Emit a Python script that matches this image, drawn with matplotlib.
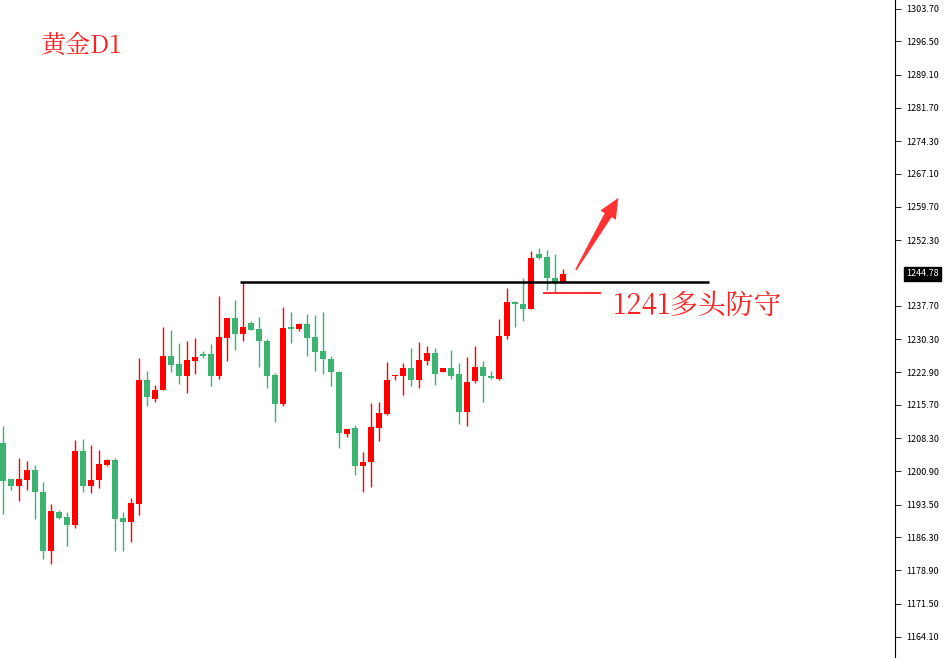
import matplotlib
matplotlib.use("Agg")
import matplotlib.pyplot as plt
from matplotlib.patches import Polygon

plt.rcParams['font.family'] = ['Noto Sans CJK SC', 'DejaVu Sans']

opens  = [1207.15,1199.2,1197.7,1199.0,1201.2,1196.3,1183.3,1191.9,1190.8,1188.9,
          1205.5,1197.7,1198.9,1202.4,1203.5,1190.6,1189.7,1193.7,1221.2,1216.9,
          1218.9,1226.6,1224.8,1222.0,1225.5,1227.0,1227.0,1222.2,1230.6,1235.0,
          1231.5,1233.9,1232.6,1229.9,1222.3,1215.8,1232.8,1232.6,1233.7,1230.8,
          1227.7,1225.9,1223.0,1209.3,1210.6,1202.0,1202.9,1210.6,1213.7,1222.0,
          1222.0,1223.9,1221.3,1225.5,1227.2,1222.9,1223.9,1222.6,1214.2,1220.9,
          1224.1,1222.0,1221.5,1230.9,1238.6,1238.1,1237.1,1249.2,1248.6,1243.9,1243.1]
closes = [1198.85,1197.7,1199.2,1201.2,1196.2,1183.3,1192.1,1190.6,1188.9,1205.5,
          1197.7,1199.0,1202.6,1203.5,1190.4,1189.7,1193.9,1221.2,1217.5,1219.0,
          1226.6,1224.6,1222.0,1225.7,1226.4,1226.6,1222.0,1230.8,1235.0,1231.5,
          1233.0,1232.4,1229.8,1222.2,1215.8,1232.8,1232.6,1233.7,1230.6,1227.5,
          1225.8,1222.9,1209.5,1210.3,1202.0,1203.0,1210.8,1213.9,1221.2,1222.2,
          1223.9,1221.3,1225.7,1227.2,1222.6,1223.9,1222.2,1214.2,1220.8,1224.1,
          1222.0,1221.7,1231.0,1238.6,1238.0,1237.1,1248.3,1248.4,1243.8,1243.1,1244.8]
highs  = [1211.0,1199.2,1203.9,1203.2,1202.3,1198.6,1193.7,1192.2,1191.9,1207.9,
          1208.1,1206.8,1205.7,1203.7,1203.9,1191.9,1195.0,1226.1,1223.3,1220.1,
          1233.0,1232.3,1229.5,1229.9,1230.6,1227.7,1229.2,1239.8,1235.0,1239.0,
          1243.0,1234.3,1235.2,1230.4,1222.8,1237.5,1236.4,1233.9,1235.9,1235.7,
          1236.3,1226.6,1223.2,1210.3,1211.2,1205.1,1216.2,1216.3,1225.2,1222.4,
          1224.9,1228.4,1229.7,1228.8,1228.4,1223.9,1227.9,1225.0,1226.3,1228.8,
          1225.5,1223.2,1234.8,1241.7,1238.8,1244.0,1249.9,1250.6,1250.1,1249.2,1245.9]
lows   = [1191.44,1196.8,1194.2,1196.8,1190.4,1181.5,1180.3,1190.3,1184.4,1188.4,
          1196.4,1196.0,1197.1,1202.0,1183.3,1183.3,1185.1,1191.1,1215.5,1216.4,
          1218.9,1223.1,1220.4,1218.4,1222.6,1226.2,1219.8,1221.5,1225.5,1227.8,
          1229.8,1232.3,1224.2,1219.5,1211.8,1215.5,1229.5,1232.2,1226.6,1223.3,
          1222.6,1219.8,1206.2,1208.6,1200.0,1196.2,1197.5,1207.7,1213.5,1221.1,
          1217.8,1219.8,1219.5,1224.6,1220.0,1222.9,1221.5,1211.5,1210.9,1220.6,
          1216.4,1221.5,1221.1,1230.3,1233.1,1234.4,1237.1,1248.2,1241.3,1240.6,1243.1]

yticks = [1303.70,1296.50,1289.10,1281.70,1274.30,1267.10,1259.70,1252.30,
          1237.70,1230.30,1222.90,1215.70,1208.30,1200.90,1193.50,1186.30,
          1178.90,1171.50,1164.10]
last_price = 1244.78
resist = 1242.9
support = 1240.6

UP = '#ff0000'
DOWN = '#3cb371'
SERIF = ['Noto Serif CJK SC', 'Noto Sans CJK SC', 'DejaVu Serif']

fig = plt.figure(figsize=(9.47, 6.58), dpi=100)
ax = fig.add_axes([0, 0, 895/947, 1])
ax.set_xlim(-0.41, 111.5)
ax.set_ylim(1159.4, 1305.7)

for i, (o, c, h, l) in enumerate(zip(opens, closes, highs, lows)):
    col = UP if c >= o else DOWN
    ax.vlines(i, l, h, color=col, linewidth=1.0)
    b = max(abs(c - o), 0.35)
    ax.bar(i, b, bottom=min(o, c), width=0.72, color=col, linewidth=0)

ax.hlines(resist, 29.6, 88.2, color='black', linewidth=1.8)
ax.hlines(support, 67.5, 74.8, color='#ff3030', linewidth=1.5)

# wedge-shaped arrow (tapered shaft + head), in pixel offsets around data points
from matplotlib.transforms import offset_copy
tr = ax.transData
p0 = tr.transform((71.6, 1245.7))
p1 = tr.transform((76.9, 1261.7))
import numpy as np
d = (p1 - p0) / np.linalg.norm(p1 - p0)
n = np.array([-d[1], d[0]])
L = np.linalg.norm(p1 - p0)
base = p1 - d * 20
pts = [p0 - n * 0.8, base - n * 4, base - n * 9, p1, base + n * 9, base + n * 4, p0 + n * 0.8]
inv = tr.inverted()
ax.add_patch(Polygon(inv.transform(pts), closed=True, color='#ff3333', linewidth=0))

ax.text(76.3, 1237.7, '1241多头防守', color='#ff2020', fontsize=20,
        va='center', ha='left', family=SERIF)
ax.text(0.045, 0.93, '黄金D1', transform=ax.transAxes, color='#ff2020', fontsize=18,
        va='center', ha='left', family=SERIF)

ax.yaxis.tick_right()
ax.set_yticks(yticks)
ax.set_yticklabels([f'{v:.2f}' for v in yticks], fontsize=6.5)
ax.tick_params(axis='y', length=4, width=0.6, pad=4)
ax.set_xticks([])
for s in ['top', 'left', 'bottom']:
    ax.spines[s].set_visible(False)
ax.spines['right'].set_linewidth(0.8)

ax.annotate(f'{last_price:.2f}', xy=(1, last_price), xycoords=('axes fraction', 'data'),
            xytext=(8, 0), textcoords='offset points', fontsize=6.5, color='white',
            va='center', ha='left',
            bbox=dict(boxstyle='square,pad=0.25', fc='black', ec='black'))

fig.savefig('out.png', dpi=100)
